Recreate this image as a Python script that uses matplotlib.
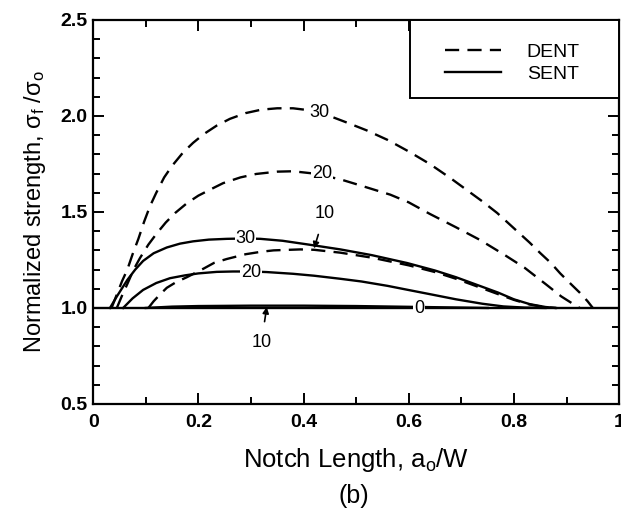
import matplotlib.pyplot as plt
from matplotlib.patches import Rectangle
from matplotlib.ticker import MultipleLocator

plt.rcParams["font.family"] = ["Liberation Sans", "DejaVu Sans"]
plt.rcParams["mathtext.fontset"] = "custom"
plt.rcParams["mathtext.rm"] = "Liberation Sans"
plt.rcParams["mathtext.it"] = "Liberation Sans"

# DENT curves (dashed)
dent30_x = [0.035, 0.045, 0.055, 0.065, 0.075, 0.086, 0.097, 0.108, 0.12, 0.135, 0.15, 0.171,
            0.19, 0.21, 0.235, 0.26, 0.29, 0.32, 0.35, 0.38, 0.41, 0.44, 0.483, 0.52, 0.56,
            0.6, 0.64, 0.68, 0.71, 0.74, 0.768, 0.79, 0.81, 0.83, 0.85, 0.87, 0.888, 0.91,
            0.925, 0.94, 0.95]
dent30_y = [1.0, 1.07, 1.14, 1.2, 1.28, 1.36, 1.45, 1.53, 1.6, 1.68, 1.74, 1.81,
            1.86, 1.905, 1.95, 1.985, 2.015, 2.033, 2.04, 2.04, 2.03, 2.01, 1.965, 1.925, 1.875,
            1.815, 1.75, 1.675, 1.615, 1.555, 1.495, 1.44, 1.39, 1.34, 1.286, 1.235, 1.18, 1.12,
            1.08, 1.035, 1.0]
dent20_x = [0.045, 0.055, 0.065, 0.077, 0.089, 0.105, 0.12, 0.138, 0.156, 0.178, 0.2, 0.225,
            0.247, 0.28, 0.31, 0.35, 0.38, 0.42, 0.47, 0.5, 0.565, 0.6, 0.64, 0.69, 0.735,
            0.78, 0.82, 0.86, 0.89, 0.913, 0.925]
dent20_y = [1.0, 1.065, 1.125, 1.2, 1.26, 1.33, 1.385, 1.445, 1.495, 1.545, 1.585, 1.62,
            1.65, 1.68, 1.698, 1.71, 1.712, 1.70, 1.67, 1.645, 1.59, 1.55, 1.49, 1.42, 1.355,
            1.28, 1.21, 1.125, 1.06, 1.02, 1.0]
dent10_x = [0.105, 0.115, 0.127, 0.14, 0.158, 0.178, 0.21, 0.23, 0.254, 0.29, 0.32, 0.343,
            0.394, 0.42, 0.47, 0.53, 0.6, 0.65, 0.69, 0.73, 0.77, 0.8, 0.83, 0.86, 0.88]
dent10_y = [1.0, 1.035, 1.07, 1.105, 1.135, 1.16, 1.205, 1.235, 1.255, 1.28, 1.293, 1.30,
            1.305, 1.303, 1.288, 1.262, 1.222, 1.187, 1.152, 1.112, 1.072, 1.042, 1.018, 1.003, 1.0]

# SENT curves (solid)
sent30_x = [0.032, 0.045, 0.065, 0.08, 0.095, 0.115, 0.14, 0.165, 0.19, 0.22, 0.254, 0.29,
            0.318, 0.36, 0.41, 0.47, 0.53, 0.597, 0.65, 0.69, 0.73, 0.77, 0.8, 0.83, 0.86, 0.88]
sent30_y = [1.0, 1.06, 1.146, 1.2, 1.245, 1.285, 1.315, 1.335, 1.347, 1.356, 1.36, 1.362,
            1.36, 1.35, 1.33, 1.305, 1.275, 1.234, 1.195, 1.16, 1.12, 1.08, 1.045, 1.02, 1.005, 1.0]
sent20_x = [0.057, 0.075, 0.095, 0.12, 0.146, 0.175, 0.2, 0.235, 0.266, 0.3, 0.33, 0.38,
            0.42, 0.47, 0.51, 0.56, 0.597, 0.64, 0.69, 0.74, 0.78, 0.82, 0.86]
sent20_y = [1.0, 1.05, 1.094, 1.13, 1.155, 1.17, 1.18, 1.188, 1.19, 1.19, 1.187, 1.178,
            1.168, 1.152, 1.138, 1.115, 1.095, 1.072, 1.045, 1.022, 1.008, 1.002, 1.0]
sent10_x = [0.1, 0.15, 0.2, 0.3, 0.4, 0.5, 0.6, 0.7, 0.75]
sent10_y = [1.0, 1.007, 1.01, 1.012, 1.012, 1.01, 1.006, 1.002, 1.0]
sent0_x = [0.0, 1.0]
sent0_y = [1.0, 1.0]

x_ticks = [0, 0.2, 0.4, 0.6, 0.8, 1.0]
x_labels = ["0", "0.2", "0.4", "0.6", "0.8", "1"]
y_ticks = [0.5, 1.0, 1.5, 2.0, 2.5]
y_labels = ["0.5", "1.0", "1.5", "2.0", "2.5"]

dash = (0, (6, 3.5))
lw = 1.7

fig = plt.figure(figsize=(6.21, 5.12), dpi=100)
ax = fig.add_axes([0.150, 0.211, 0.847, 0.750])

ax.plot(dent30_x, dent30_y, color="black", lw=lw, linestyle=dash, label="DENT")
ax.plot(dent20_x, dent20_y, color="black", lw=lw, linestyle=dash)
ax.plot(dent10_x, dent10_y, color="black", lw=lw, linestyle=dash)
ax.plot(sent30_x, sent30_y, color="black", lw=lw, label="SENT")
ax.plot(sent20_x, sent20_y, color="black", lw=lw)
ax.plot(sent10_x, sent10_y, color="black", lw=lw)
ax.plot(sent0_x, sent0_y, color="black", lw=lw)

# inline curve labels
box = dict(facecolor="white", edgecolor="none", pad=0.5)
fs_lab = 13
ax.text(0.43, 2.02, "30", ha="center", va="center", fontsize=fs_lab, bbox=box)
ax.text(0.435, 1.70, "20", ha="center", va="center", fontsize=fs_lab, bbox=box)
ax.text(0.29, 1.36, "30", ha="center", va="center", fontsize=fs_lab, bbox=box)
ax.text(0.30, 1.185, "20", ha="center", va="center", fontsize=fs_lab, bbox=box)
ax.text(0.62, 0.995, "0", ha="center", va="center", fontsize=fs_lab, bbox=box)
arrow = dict(arrowstyle="-|>", color="black", lw=1.2, shrinkA=7, shrinkB=0, mutation_scale=9)
ax.annotate("10", xy=(0.42, 1.31), xytext=(0.44, 1.49), ha="center", va="center",
            fontsize=fs_lab, arrowprops=arrow)
ax.annotate("10", xy=(0.33, 1.005), xytext=(0.32, 0.82), ha="center", va="center",
            fontsize=fs_lab, arrowprops=arrow)

ax.set_xlim(0, 1)
ax.set_ylim(0.5, 2.5)
ax.xaxis.set_minor_locator(MultipleLocator(0.1))
ax.yaxis.set_minor_locator(MultipleLocator(0.1))
ax.set_xticks(x_ticks)
ax.set_xticklabels(x_labels, fontweight="bold")
ax.set_yticks(y_ticks)
ax.set_yticklabels(y_labels, fontweight="bold")
ax.tick_params(which="both", direction="in", top=True, right=True, width=1.4, labelsize=14)
ax.tick_params(which="major", length=8)
ax.tick_params(which="minor", length=5)
ax.tick_params(axis="x", pad=7)
ax.tick_params(axis="y", pad=4)
for s in ax.spines.values():
    s.set_linewidth(1.6)

ax.set_xlabel(r"Notch Length, a$_\mathregular{o}$/W", fontsize=18.5, labelpad=11)
ax.set_ylabel(r"Normalized strength, $\sigma_\mathregular{f}$ /$\sigma_\mathregular{o}$",
              fontsize=17, labelpad=9)
fig.text(0.57, 0.031, "(b)", ha="center", va="center", fontsize=18)

# legend box with its frame drawn separately
ax.add_patch(Rectangle((0.603, 0.797), 0.397, 0.203, transform=ax.transAxes,
                       facecolor="white", edgecolor="black", lw=1.4, zorder=4))
leg = ax.legend(loc="upper left", bbox_to_anchor=(0.669, 0.94), fontsize=14, frameon=False,
                borderpad=0, borderaxespad=0, handlelength=2.9, handletextpad=1.3,
                labelspacing=0.25)
leg.set_zorder(5)

fig.savefig("out.png", dpi=100)
